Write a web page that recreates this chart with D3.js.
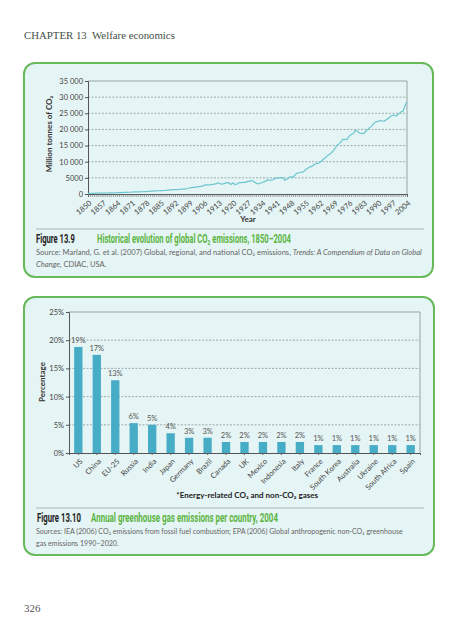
<!DOCTYPE html>
<html><head><meta charset="utf-8">
<script src="https://cdn.jsdelivr.net/npm/d3@7"></script>
<style>body{margin:0;background:#fff}svg{display:block}</style>
</head><body>
<svg id="c" width="476" height="640"></svg>
<script>
// ---- Data: Figure 13.9 (million tonnes CO2, 1850–2004)
const years = d3.range(1850, 2005);
const co2 = [198,198,209,216,253,260,279,282,286,304,
334,348,356,381,411,436,447,477,495,521,
539,572,634,675,638,689,700,711,719,770,
865,891,939,997,1008,1016,1030,1082,1199,1199,
1305,1364,1371,1357,1404,1489,1536,1613,1705,1859,
1958,2024,2076,2263,2288,2431,2593,2875,2750,2879,
3003,3066,3223,3458,3117,3073,3304,3502,3432,2956,
3418,2945,3099,3557,3531,3575,3605,3894,3905,4199,
3861,3447,3106,3275,3568,3766,4144,4433,4188,4371,
4763,4892,4921,5101,5071,4254,4540,5104,5387,5203,
5977,6480,6582,6751,6839,7492,7983,8324,8544,8999,
9420,9461,9850,10389,10983,11478,12057,12442,13077,13861,
14862,15431,16047,16920,16953,16854,17836,18430,18654,19688,
19490,18892,18749,18680,19362,19945,20561,21093,21874,22358,
22468,22798,22603,22596,22977,23461,23990,24389,24360,24239,
24807,25401,25654,27194,28628];
const co2Ticks = [0,5000,10000,15000,20000,25000,30000,35000];
const co2TickLabels = ["0","5000","10 000","15 000","20 000","25 000","30 000","35 000"];

// ---- Data: Figure 13.10 (percentage share)
const countries = ["US","China","EU-25","Russia","India","Japan","Germany","Brazil","Canada","UK","Mexico","Indonesia","Italy","France","South Korea","Australia","Ukraine","South Africa","Spain"];
const shares = [18.8,17.4,12.9,5.3,5.0,3.5,2.7,2.7,1.95,1.95,1.95,1.95,1.95,1.4,1.4,1.4,1.4,1.4,1.4];
const shareLabels = ["19%","17%","13%","6%","5%","4%","3%","3%","2%","2%","2%","2%","2%","1%","1%","1%","1%","1%","1%"];
const pctTicks = [0,5,10,15,20,25];

const svg = d3.select("#c");
const SANS = "Lato, 'Open Sans', sans-serif";
const NARROW = "'Liberation Sans Narrow', 'Roboto', sans-serif";
const GREEN = "#67b95a", BG = "#e5f4f4", TITLEGREEN = "#5cb443";

// scale a text's font-size so its natural width matches a target width
function fit(sel, w){
  const fs = +sel.attr("font-size");
  const len = sel.node().getComputedTextLength();
  if (len > 0) sel.attr("font-size", (fs*w/len).toFixed(2));
  return sel;
}
// condensed text: keep height, squeeze horizontally to target width
function squeeze(x, y, w, opts, str){
  const g = svg.append("g");
  const t = g.append("text").attr("x",0).attr("y",0).attr("font-family",NARROW).attr("font-weight","bold")
    .attr("font-size",opts.size).attr("fill",opts.fill).text(str);
  const len = t.node().getComputedTextLength();
  g.attr("transform",`translate(${x},${y}) scale(${(w/len).toFixed(3)},1)`);
  return t;
}

// header
fit(svg.append("text").attr("x",24).attr("y",39).attr("font-family","'Liberation Serif', serif")
  .attr("font-size",12.5).attr("fill","#3f5049").attr("xml:space","preserve")
  .text("CHAPTER 13  Welfare economics"), 151);
svg.append("text").attr("x",24).attr("y",612).attr("font-family","'Liberation Serif', serif")
  .attr("font-size",11).attr("fill","#555").text("326");

// boxes
svg.append("rect").attr("x",24).attr("y",63).attr("width",409).attr("height",214).attr("rx",11)
  .attr("fill",BG).attr("stroke",GREEN).attr("stroke-width",2);
svg.append("rect").attr("x",24).attr("y",297).attr("width",410).attr("height",258).attr("rx",11)
  .attr("fill",BG).attr("stroke",GREEN).attr("stroke-width",2);

// ================= Chart 1 =================
const x1 = d3.scaleLinear().domain([1850,2004]).range([88,407]);
const y1 = d3.scaleLinear().domain([0,35000]).range([194,81]);
const g1 = svg.append("g");
g1.selectAll(".g").data(co2Ticks.filter(d=>d>0 && d<35000)).enter().append("line")
  .attr("x1",88).attr("x2",407).attr("y1",d=>y1(d)).attr("y2",d=>y1(d))
  .attr("stroke","#8a9898").attr("stroke-width",0.8).attr("stroke-dasharray","2,1.5");
g1.append("path").attr("d",`M88,81H407V194`).attr("fill","none").attr("stroke","#9aa5a5").attr("stroke-width",1);
const ya1 = g1.append("g").attr("transform","translate(88,0)")
  .call(d3.axisLeft(y1).tickValues(co2Ticks).tickSize(3).tickFormat((d,i)=>co2TickLabels[i]));
ya1.select(".domain").attr("stroke","#555");
ya1.selectAll(".tick line").attr("stroke","#555");
ya1.selectAll("text").attr("font-family",SANS).attr("font-size",7.5).attr("fill","#444").attr("x",-5);
const xa1 = g1.append("g").attr("transform","translate(0,194)")
  .call(d3.axisBottom(x1).tickValues(years).tickSize(3).tickFormat(d=>(d-1850)%7===0?d:""));
xa1.select(".domain").attr("stroke","#555");
xa1.selectAll(".tick line").attr("stroke","#666").attr("stroke-width",0.6);
xa1.selectAll("text").attr("font-family",SANS).attr("font-size",7.5).attr("fill","#444")
  .attr("x",0).attr("y",0).attr("dy","0.35em")
  .attr("text-anchor","end").attr("transform","translate(2,8) rotate(-40)");
g1.append("path").datum(years.map((y,i)=>[y,co2[i]]))
  .attr("d",d3.line().x(d=>x1(d[0])).y(d=>y1(d[1])))
  .attr("fill","none").attr("stroke","#6ec6cf").attr("stroke-width",1.2);
svg.append("text").attr("transform","translate(52,134) rotate(-90)").attr("text-anchor","middle")
  .attr("font-family",SANS).attr("font-weight","bold").attr("font-size",8).attr("fill","#333")
  .text("Million tonnes of CO₂");
svg.append("text").attr("x",248).attr("y",222).attr("text-anchor","middle")
  .attr("font-family",SANS).attr("font-weight","bold").attr("font-size",8).attr("fill","#333").text("Year");
// caption
svg.append("line").attr("x1",36).attr("x2",424).attr("y1",229).attr("y2",229).attr("stroke","#a8b8bc").attr("stroke-width",1);
squeeze(36, 243, 39, {size:12, fill:"#222"}, "Figure 13.9");
squeeze(97, 243, 194, {size:12, fill:TITLEGREEN}, "Historical evolution of global CO₂ emissions, 1850–2004");
const s1 = svg.append("text").attr("x",36).attr("y",255).attr("font-family",SANS).attr("font-size",8).attr("fill","#666");
s1.append("tspan").text("Source: Marland, G. et al. (2007) Global, regional, and national CO₂ emissions, ");
s1.append("tspan").attr("font-style","italic").text("Trends: A Compendium of Data on Global");
fit(s1, 386);
const s2 = svg.append("text").attr("x",36).attr("y",267).attr("font-family",SANS).attr("font-size",+s1.attr("font-size")).attr("fill","#666");
s2.append("tspan").attr("font-style","italic").text("Change");
s2.append("tspan").text(", CDIAC, USA.");

// ================= Chart 2 =================
const x2 = d3.scaleBand().domain(countries).range([69,420]).paddingInner(0.55).paddingOuter(0.28);
const y2 = d3.scaleLinear().domain([0,25]).range([453,312]);
const g2 = svg.append("g");
g2.selectAll(".g").data(pctTicks.filter(d=>d>0 && d<25)).enter().append("line")
  .attr("x1",69).attr("x2",420).attr("y1",d=>y2(d)).attr("y2",d=>y2(d))
  .attr("stroke","#8a9898").attr("stroke-width",0.8).attr("stroke-dasharray","2,1.5");
g2.append("path").attr("d",`M69,312H420V453`).attr("fill","none").attr("stroke","#9aa5a5").attr("stroke-width",1);
const ya2 = g2.append("g").attr("transform","translate(69,0)")
  .call(d3.axisLeft(y2).tickValues(pctTicks).tickSize(3).tickFormat(d=>d+"%"));
ya2.select(".domain").attr("stroke","#555");
ya2.selectAll(".tick line").attr("stroke","#555");
ya2.selectAll("text").attr("font-family",SANS).attr("font-size",7.5).attr("fill","#444").attr("x",-5);
g2.selectAll(".bar").data(countries).enter().append("rect")
  .attr("x",d=>x2(d)).attr("width",x2.bandwidth())
  .attr("y",(d,i)=>y2(shares[i])).attr("height",(d,i)=>y2(0)-y2(shares[i]))
  .attr("fill","#47adc7");
g2.selectAll(".lab").data(countries).enter().append("text")
  .attr("x",d=>x2(d)+x2.bandwidth()/2).attr("y",(d,i)=>y2(shares[i])-4)
  .attr("text-anchor","middle").attr("font-family",SANS).attr("font-size",7.5).attr("fill","#555")
  .text((d,i)=>shareLabels[i]);
const xa2 = g2.append("g").attr("transform","translate(0,453)")
  .call(d3.axisBottom(x2).tickSize(2));
xa2.select(".domain").attr("stroke","#555");
xa2.selectAll(".tick line").attr("stroke","#666");
xa2.selectAll("text").attr("font-family",SANS).attr("font-size",7.5).attr("fill","#444")
  .attr("x",0).attr("y",0).attr("dy","0.35em")
  .attr("text-anchor","end").attr("transform","translate(3,7) rotate(-45)");
svg.append("text").attr("transform","translate(45,382) rotate(-90)").attr("text-anchor","middle")
  .attr("font-family",SANS).attr("font-weight","bold").attr("font-size",8).attr("fill","#333").text("Percentage");
svg.append("text").attr("x",318).attr("y",498).attr("text-anchor","end")
  .attr("font-family",SANS).attr("font-weight","bold").attr("font-size",8).attr("fill","#222")
  .text("*Energy-related CO₂ and non-CO₂ gases");
// caption
svg.append("line").attr("x1",36).attr("x2",424).attr("y1",508).attr("y2",508).attr("stroke","#a8b8bc").attr("stroke-width",1);
squeeze(37, 522, 44, {size:12, fill:"#222"}, "Figure 13.10");
squeeze(91, 522, 187, {size:12, fill:TITLEGREEN}, "Annual greenhouse gas emissions per country, 2004");
const s3 = fit(svg.append("text").attr("x",36).attr("y",534).attr("font-family",SANS).attr("font-size",8).attr("fill","#666")
  .text("Sources: IEA (2006) CO₂ emissions from fossil fuel combustion; EPA (2006) Global anthropogenic non-CO₂ greenhouse"), 367);
svg.append("text").attr("x",36).attr("y",546).attr("font-family",SANS).attr("font-size",+s3.attr("font-size")).attr("fill","#666")
  .text("gas emissions 1990–2020.");
</script>
</body></html>
